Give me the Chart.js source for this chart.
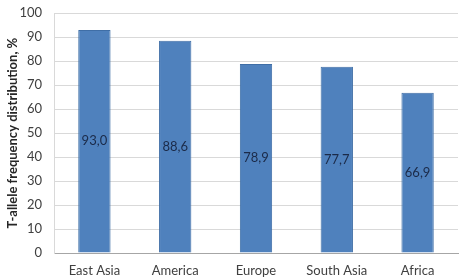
<!DOCTYPE html>
<html>
<head>
<meta charset="utf-8">
<script src="https://cdn.jsdelivr.net/npm/chart.js@4/dist/chart.umd.min.js"></script>
<style>
  html, body { margin: 0; padding: 0; background: #fff; }
  #chartContainer { width: 461px; height: 279px; }
</style>
</head>
<body>
<div id="chartContainer"><canvas id="chartFreq"></canvas></div>
<script>
const regions = ['East Asia', 'America', 'Europe', 'South Asia', 'Africa'];
const freqValues = [93.0, 88.6, 78.9, 77.7, 66.9];
const yTicks = [0, 10, 20, 30, 40, 50, 60, 70, 80, 90, 100];

/* labels in the middle of each bar, decimal comma */
const barLabels = {
  id: 'barLabels',
  afterDatasetsDraw(chart) {
    const ctx = chart.ctx;
    const meta = chart.getDatasetMeta(0);
    ctx.save();
    ctx.font = '13px Lato';
    ctx.fillStyle = '#1b2a48';
    ctx.textAlign = 'center';
    ctx.textBaseline = 'middle';
    meta.data.forEach(function (bar, i) {
      const mid = (bar.y + bar.base) / 2;
      ctx.fillText(freqValues[i].toFixed(1).replace('.', ','), bar.x, mid);
    });
    ctx.restore();
  },
};

const chart_ctx = document.getElementById('chartFreq');
const chart = new Chart(chart_ctx, {
  type: 'bar',
  data: {
    labels: regions,
    datasets: [
      {
        data: freqValues,
        backgroundColor: '#4f81bd',
        borderColor: '#3f6ea6',
        borderWidth: 1,
        barPercentage: 0.4,
        categoryPercentage: 1,
      },
    ],
  },
  options: {
    responsive: true,
    maintainAspectRatio: false,
    animation: false,
    layout: { padding: { top: 5, right: 3, left: 0, bottom: 0 } },
    plugins: {
      legend: { display: false },
      tooltip: { enabled: false },
    },
    scales: {
      x: {
        afterFit(axis) {
          axis.height = 26;
        },
        grid: { display: false, drawTicks: false },
        border: { color: '#a6a6a6' },
        ticks: { color: '#404040', font: { family: 'Lato', size: 13, lineHeight: 1 }, padding: 11 },
      },
      y: {
        min: 0,
        max: 100,
        afterBuildTicks(axis) {
          axis.ticks = yTicks.map(function (v) { return { value: v }; });
        },
        afterFit(axis) {
          axis.width = 54;
        },
        grid: { color: '#d9d9d9', drawTicks: false },
        border: { color: '#d9d9d9' },
        ticks: { color: '#404040', font: { family: 'Lato', size: 13, lineHeight: 0.2 }, padding: 12 },
        title: {
          display: true,
          text: 'T-allele frequency distribution, %',
          color: '#262626',
          font: { family: 'Lato', size: 13, weight: 'bold' },
          padding: { top: 5, bottom: 0 },
        },
      },
    },
  },
  plugins: [barLabels],
});
</script>
</body>
</html>
